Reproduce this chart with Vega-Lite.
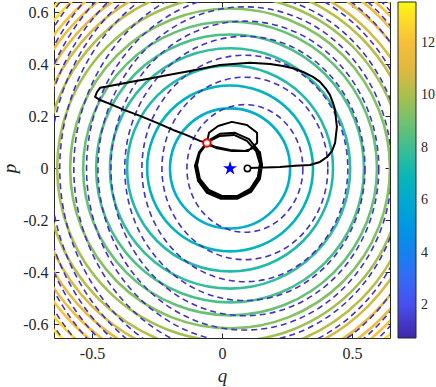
{
  "$schema": "https://vega.github.io/schema/vega-lite/v6.json",
  "width": 336,
  "height": 336,
  "autosize": {"type": "none"},
  "padding": {"left": 54, "top": 2, "right": 46, "bottom": 49},
  "background": "white",
  "config": {
    "view": {"stroke": "#262626", "strokeWidth": 1},
    "font": "Liberation Serif",
    "axis": {
      "grid": false,
      "domain": false,
      "tickColor": "#262626",
      "tickSize": -5,
      "tickWidth": 1,
      "labelColor": "#262626",
      "labelFont": "Liberation Serif",
      "labelFontSize": 16,
      "titleFont": "Liberation Serif",
      "titleFontStyle": "italic",
      "titleFontWeight": "normal",
      "titleFontSize": 19,
      "titleColor": "#262626"
    },
    "legend": {
      "labelFont": "Liberation Serif",
      "labelFontSize": 14,
      "labelColor": "#262626"
    }
  },
  "datasets": {
    "solid": [
      {"q": 0.031, "p": 0, "r": 0.231, "level": 6.3},
      {"q": 0.031, "p": 0, "r": 0.319, "level": 6.8},
      {"q": 0.031, "p": 0, "r": 0.396, "level": 7.3},
      {"q": 0.031, "p": 0, "r": 0.462, "level": 7.8},
      {"q": 0.031, "p": 0, "r": 0.515, "level": 8.3},
      {"q": 0.031, "p": 0, "r": 0.565, "level": 8.8},
      {"q": 0.031, "p": 0, "r": 0.615, "level": 9.3},
      {"q": 0.031, "p": 0, "r": 0.665, "level": 9.8},
      {"q": 0.031, "p": 0, "r": 0.712, "level": 10.3},
      {"q": 0.031, "p": 0, "r": 0.750, "level": 10.8},
      {"q": 0.031, "p": 0, "r": 0.785, "level": 11.3},
      {"q": 0.031, "p": 0, "r": 0.819, "level": 11.8},
      {"q": 0.031, "p": 0, "r": 0.850, "level": 12.3},
      {"q": 0.031, "p": 0, "r": 0.885, "level": 12.8},
      {"q": 0.031, "p": 0, "r": 0.919, "level": 13.2},
      {"q": 0.031, "p": 0, "r": 0.954, "level": 13.5}
    ],
    "dashed": [
      {"q": 0.088, "p": 0.0, "a": 0.223},
      {"q": 0.088, "p": 0.0, "a": 0.319},
      {"q": 0.088, "p": 0.0, "a": 0.396},
      {"q": 0.088, "p": 0.0, "a": 0.462},
      {"q": 0.088, "p": 0.0, "a": 0.515},
      {"q": 0.088, "p": 0.0, "a": 0.565},
      {"q": 0.088, "p": 0.0, "a": 0.609},
      {"q": 0.088, "p": 0.0, "a": 0.658},
      {"q": 0.088, "p": 0.0, "a": 0.712},
      {"q": 0.088, "p": 0.0, "a": 0.750},
      {"q": 0.088, "p": 0.0, "a": 0.785},
      {"q": 0.088, "p": 0.0, "a": 0.819},
      {"q": 0.088, "p": 0.0, "a": 0.850},
      {"q": 0.088, "p": 0.0, "a": 0.885},
      {"q": 0.088, "p": 0.0, "a": 0.919},
      {"q": 0.088, "p": 0.0, "a": 0.954},
      {"q": 0.088, "p": 0.0, "a": 0.988}
    ],
    "traj": [
      {"i": 1, "q": -0.058, "p": 0.098},
      {"i": 2, "q": -0.050, "p": 0.137},
      {"i": 3, "q": -0.015, "p": 0.163},
      {"i": 4, "q": 0.038, "p": 0.179},
      {"i": 5, "q": 0.096, "p": 0.167},
      {"i": 6, "q": 0.135, "p": 0.137},
      {"i": 7, "q": 0.135, "p": 0.098},
      {"i": 8, "q": 0.100, "p": 0.067},
      {"i": 9, "q": 0.038, "p": 0.067},
      {"i": 10, "q": -0.023, "p": 0.079},
      {"i": 11, "q": -0.058, "p": 0.094},
      {"i": 12, "q": -0.085, "p": 0.063},
      {"i": 13, "q": -0.096, "p": 0.013},
      {"i": 14, "q": -0.085, "p": -0.040},
      {"i": 15, "q": -0.050, "p": -0.083},
      {"i": 16, "q": 0.000, "p": -0.106},
      {"i": 17, "q": 0.058, "p": -0.106},
      {"i": 18, "q": 0.108, "p": -0.079},
      {"i": 19, "q": 0.138, "p": -0.033},
      {"i": 20, "q": 0.146, "p": 0.017},
      {"i": 21, "q": 0.131, "p": 0.067},
      {"i": 22, "q": 0.096, "p": 0.106},
      {"i": 23, "q": 0.046, "p": 0.129},
      {"i": 24, "q": -0.008, "p": 0.125},
      {"i": 25, "q": -0.054, "p": 0.102},
      {"i": 26, "q": -0.085, "p": 0.060},
      {"i": 27, "q": -0.100, "p": 0.010},
      {"i": 28, "q": -0.088, "p": -0.048},
      {"i": 29, "q": -0.054, "p": -0.090},
      {"i": 30, "q": 0.000, "p": -0.113},
      {"i": 31, "q": 0.062, "p": -0.110},
      {"i": 32, "q": 0.112, "p": -0.083},
      {"i": 33, "q": 0.142, "p": -0.037},
      {"i": 34, "q": 0.154, "p": 0.017},
      {"i": 35, "q": 0.138, "p": 0.071},
      {"i": 36, "q": 0.104, "p": 0.113},
      {"i": 37, "q": 0.050, "p": 0.137},
      {"i": 38, "q": -0.008, "p": 0.133},
      {"i": 39, "q": -0.054, "p": 0.106},
      {"i": 40, "q": -0.088, "p": 0.063},
      {"i": 41, "q": -0.104, "p": 0.010},
      {"i": 42, "q": -0.092, "p": -0.048},
      {"i": 43, "q": -0.058, "p": -0.094},
      {"i": 44, "q": -0.004, "p": -0.117},
      {"i": 45, "q": 0.058, "p": -0.117},
      {"i": 46, "q": 0.112, "p": -0.090},
      {"i": 47, "q": 0.146, "p": -0.040},
      {"i": 48, "q": 0.154, "p": 0.013},
      {"i": 49, "q": 0.146, "p": 0.063},
      {"i": 50, "q": 0.123, "p": 0.079},
      {"i": 51, "q": 0.088, "p": 0.067},
      {"i": 52, "q": 0.031, "p": 0.071},
      {"i": 53, "q": -0.027, "p": 0.083},
      {"i": 54, "q": -0.058, "p": 0.098},
      {"i": 55, "q": -0.085, "p": 0.106},
      {"i": 56, "q": -0.138, "p": 0.129},
      {"i": 57, "q": -0.188, "p": 0.148},
      {"i": 58, "q": -0.250, "p": 0.175},
      {"i": 59, "q": -0.315, "p": 0.202},
      {"i": 60, "q": -0.377, "p": 0.225},
      {"i": 61, "q": -0.431, "p": 0.248},
      {"i": 62, "q": -0.469, "p": 0.263},
      {"i": 63, "q": -0.488, "p": 0.275},
      {"i": 64, "q": -0.481, "p": 0.294},
      {"i": 65, "q": -0.469, "p": 0.310},
      {"i": 66, "q": -0.442, "p": 0.315},
      {"i": 67, "q": -0.392, "p": 0.325},
      {"i": 68, "q": -0.342, "p": 0.334},
      {"i": 69, "q": -0.277, "p": 0.346},
      {"i": 70, "q": -0.212, "p": 0.358},
      {"i": 71, "q": -0.123, "p": 0.375},
      {"i": 72, "q": -0.008, "p": 0.398},
      {"i": 73, "q": 0.108, "p": 0.406},
      {"i": 74, "q": 0.185, "p": 0.402},
      {"i": 75, "q": 0.235, "p": 0.394},
      {"i": 76, "q": 0.281, "p": 0.383},
      {"i": 77, "q": 0.312, "p": 0.371},
      {"i": 78, "q": 0.350, "p": 0.352},
      {"i": 79, "q": 0.377, "p": 0.333},
      {"i": 80, "q": 0.400, "p": 0.306},
      {"i": 81, "q": 0.415, "p": 0.283},
      {"i": 82, "q": 0.427, "p": 0.252},
      {"i": 83, "q": 0.435, "p": 0.225},
      {"i": 84, "q": 0.438, "p": 0.194},
      {"i": 85, "q": 0.442, "p": 0.160},
      {"i": 86, "q": 0.438, "p": 0.125},
      {"i": 87, "q": 0.435, "p": 0.098},
      {"i": 88, "q": 0.423, "p": 0.067},
      {"i": 89, "q": 0.404, "p": 0.044},
      {"i": 90, "q": 0.377, "p": 0.025},
      {"i": 91, "q": 0.338, "p": 0.013},
      {"i": 92, "q": 0.281, "p": 0.010},
      {"i": 93, "q": 0.223, "p": 0.006},
      {"i": 94, "q": 0.165, "p": 0.004},
      {"i": 95, "q": 0.100, "p": 0.002}
    ],
    "star": [{"q": 0.031, "p": 0.0}],
    "endpt": [{"q": 0.098, "p": 0.0}],
    "startpt": [{"q": -0.058, "p": 0.098}]
  },
  "layer": [
    {
      "data": {"name": "solid"},
      "mark": {"type": "point", "shape": "circle", "filled": false, "strokeWidth": 2.6, "opacity": 1, "clip": true},
      "encoding": {
        "x": {
          "field": "q", "type": "quantitative",
          "scale": {"domain": [-0.6462, 0.6462], "nice": false, "zero": false},
          "axis": {
            "orient": "bottom", "title": "q", "values": [-0.5, 0, 0.5],
            "labelPadding": 25, "labelBaseline": "alphabetic",
            "labelExpr": "datum.value == 0 ? '0' : replace(format(datum.value, '.1f'), '\u2212', '-')",
            "titleX": 168, "titleY": 43, "titleBaseline": "alphabetic"
          }
        },
        "y": {
          "field": "p", "type": "quantitative",
          "scale": {"domain": [-0.652, 0.640], "nice": false, "zero": false},
          "axis": {
            "orient": "left", "title": "p", "values": [-0.6, -0.4, -0.2, 0, 0.2, 0.4, 0.6],
            "labelPadding": 11,
            "labelExpr": "datum.value == 0 ? '0' : replace(format(datum.value, '.1f'), '\u2212', '-')",
            "titleAngle": -90, "titleX": -39, "titleY": 166, "titleBaseline": "alphabetic"
          }
        },
        "size": {
          "field": "r", "type": "quantitative",
          "scale": {"type": "pow", "exponent": 2, "domain": [0, 1], "range": [0, 270400]},
          "legend": null
        },
        "color": {
          "field": "level", "type": "quantitative",
          "scale": {
            "domain": [0.75, 2.031, 3.312, 4.593, 5.874, 7.155, 8.436, 9.717, 10.998, 12.279, 13.56],
            "range": ["#3e26a8", "#4750f0", "#3271f5", "#1b8ee6", "#0ea8d3", "#1fb8ad", "#50c085", "#9cc055", "#e0b93f", "#fbc03a", "#f9fb0e"]
          },
          "legend": {
            "orient": "right", "offset": 7, "padding": 0, "title": null,
            "direction": "vertical", "gradientLength": 336, "gradientThickness": 18,
            "gradientStrokeColor": "#262626", "gradientStrokeWidth": 1,
            "values": [2, 4, 6, 8, 10, 12], "labelOffset": 5, "labelOverlap": false
          }
        }
      }
    },
    {
      "data": {"name": "dashed"},
      "mark": {"type": "point", "shape": "M1,0C1,0.6075,0.552,1.1,0,1.1C-0.552,1.1,-1,0.6075,-1,0C-1,-0.6075,-0.552,-1.1,0,-1.1C0.552,-1.1,1,-0.6075,1,0Z", "filled": false, "strokeWidth": 1.6, "strokeDash": [6, 4], "color": "#4232c6", "opacity": 1, "clip": true},
      "encoding": {
        "x": {"field": "q", "type": "quantitative",
          "axis": {"orient": "top", "title": null, "labels": false, "values": [-0.5, 0, 0.5]}},
        "y": {"field": "p", "type": "quantitative",
          "axis": {"orient": "right", "title": null, "labels": false, "values": [-0.6, -0.4, -0.2, 0, 0.2, 0.4, 0.6]}},
        "size": {"field": "a", "type": "quantitative", "legend": null}
      }
    },
    {
      "data": {"name": "traj"},
      "mark": {"type": "line", "color": "black", "strokeWidth": 2, "clip": true, "strokeJoin": "round"},
      "encoding": {
        "x": {"field": "q", "type": "quantitative", "axis": null},
        "y": {"field": "p", "type": "quantitative", "axis": null},
        "order": {"field": "i", "type": "quantitative"}
      }
    },
    {
      "data": {"name": "star"},
      "mark": {"type": "point", "shape": "M0,-1L0.225,-0.309L0.951,-0.309L0.363,0.118L0.588,0.809L0,0.382L-0.588,0.809L-0.363,0.118L-0.951,-0.309L-0.225,-0.309Z", "filled": true, "color": "#0000ff", "size": 220, "opacity": 1},
      "encoding": {
        "x": {"field": "q", "type": "quantitative", "axis": null},
        "y": {"field": "p", "type": "quantitative", "axis": null}
      }
    },
    {
      "data": {"name": "endpt"},
      "mark": {"type": "point", "shape": "circle", "filled": false, "fill": "white", "fillOpacity": 1, "stroke": "black", "strokeWidth": 1.6, "size": 40, "opacity": 1},
      "encoding": {
        "x": {"field": "q", "type": "quantitative", "axis": null},
        "y": {"field": "p", "type": "quantitative", "axis": null}
      }
    },
    {
      "data": {"name": "startpt"},
      "mark": {"type": "point", "shape": "circle", "filled": false, "fill": "white", "fillOpacity": 1, "stroke": "#ff0000", "strokeWidth": 2, "size": 56, "opacity": 1},
      "encoding": {
        "x": {"field": "q", "type": "quantitative", "axis": null},
        "y": {"field": "p", "type": "quantitative", "axis": null}
      }
    }
  ]
}
